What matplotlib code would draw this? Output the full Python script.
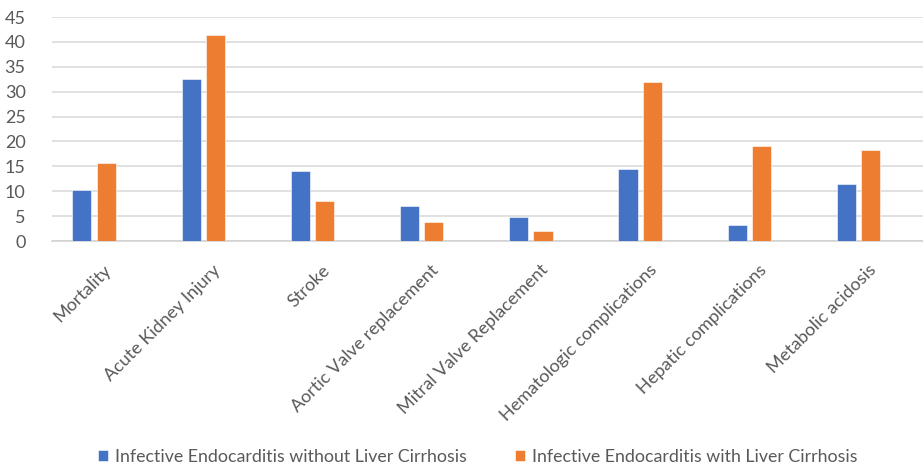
import matplotlib.pyplot as plt
import numpy as np
from matplotlib.transforms import ScaledTranslation

plt.rcParams['font.family'] = ['Lato', 'DejaVu Sans']

categories = ['Mortality', 'Acute Kidney Injury', 'Stroke', 'Aortic Valve replacement',
              'Mitral Valve Replacement', 'Hematologic complications',
              'Hepatic complications', 'Metabolic acidosis']
without_lc = [10.2, 32.6, 14.0, 7.0, 4.8, 14.4, 3.2, 11.4]
with_lc = [15.6, 41.4, 8.1, 3.75, 2.1, 31.9, 19.1, 18.2]
series_names = ['Infective Endocarditis without Liver Cirrhosis',
                'Infective Endocarditis with Liver Cirrhosis']

blue = '#4472C4'
orange = '#ED7D31'
text_col = '#595959'

fig = plt.figure(figsize=(9.23, 4.70), dpi=100)
ax = fig.add_axes([52 / 923, 229 / 470, 871 / 923, 224 / 470])

x = np.arange(len(categories))
w = 0.175
off = 0.111
ax.bar(x - off, without_lc, w, color=blue, edgecolor='white', linewidth=0.4,
       label=series_names[0], zorder=3)
ax.bar(x + off, with_lc, w, color=orange, edgecolor='white', linewidth=0.4,
       label=series_names[1], zorder=3)

ax.set_xlim(-0.385, 7.59)
ax.set_ylim(0, 45)
ax.set_yticks(range(0, 50, 5))
ax.yaxis.grid(True, color='#D9D9D9', linewidth=1.1, zorder=0)
ax.set_axisbelow(True)
for s in ['top', 'right', 'left']:
    ax.spines[s].set_visible(False)
ax.spines['bottom'].set_color('#D0D0D0')
ax.spines['bottom'].set_linewidth(1.1)

ax.tick_params(axis='y', length=0, pad=19, labelsize=13, labelcolor=text_col)
ax.tick_params(axis='x', length=0, labelsize=13, labelcolor=text_col)
ax.set_xticks(x)
ax.set_xticklabels(categories, rotation=45, ha='right', va='top', rotation_mode='anchor')
for lbl in ax.get_xticklabels():
    lbl.set_transform(lbl.get_transform() + ScaledTranslation(9 / 100, -16 / 100, fig.dpi_scale_trans))

fig.legend(loc='center', bbox_to_anchor=(478 / 923, 13 / 470), ncol=2, frameon=False,
           fontsize=12.8, labelcolor=text_col, handlelength=0.55, handleheight=0.55,
           handletextpad=0.4, columnspacing=2.7)

fig.savefig('out.png', dpi=100)
